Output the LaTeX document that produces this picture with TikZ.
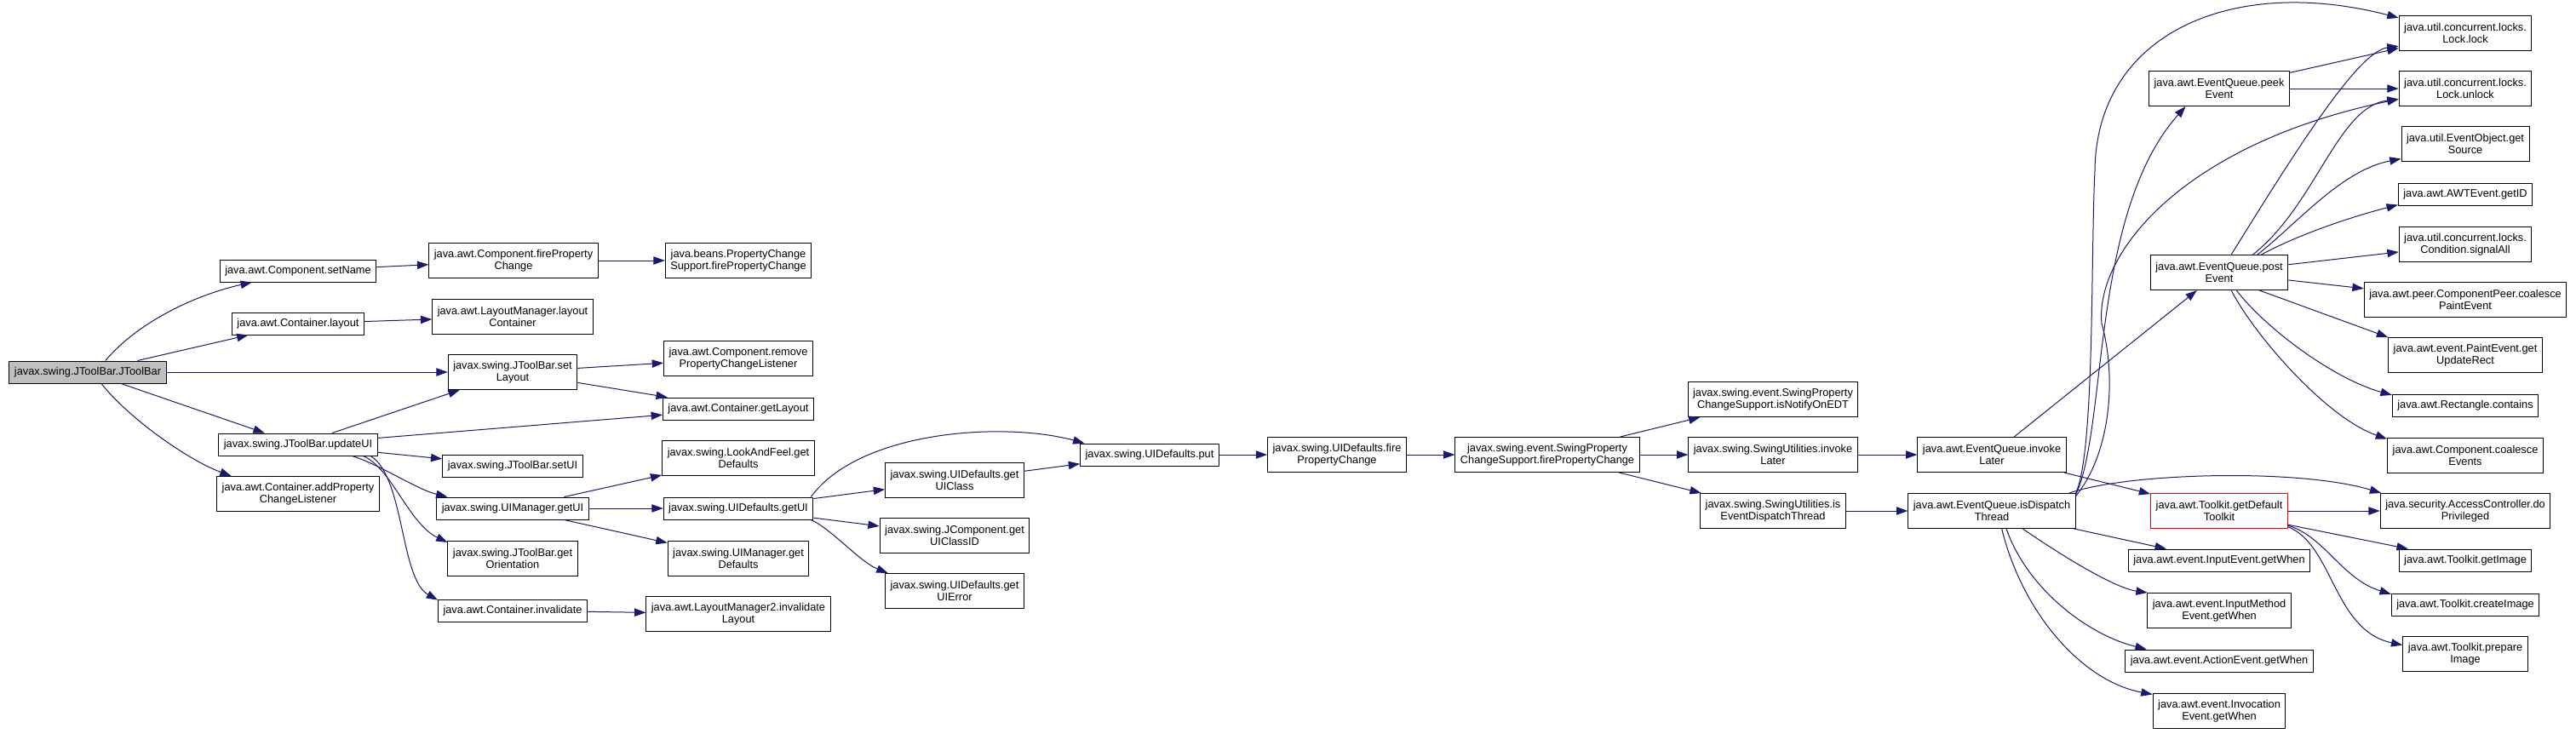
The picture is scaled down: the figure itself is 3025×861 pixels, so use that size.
\documentclass[tikz,border=0pt]{standalone}
\usepackage{fontspec}
\setmainfont{Liberation Sans}
\usepackage{xcolor}
\usetikzlibrary{arrows.meta}
\definecolor{edgeblue}{HTML}{191970}
\definecolor{rootgray}{HTML}{BFBFBF}

\begin{document}
\begin{tikzpicture}[x=0.75pt,y=-0.75pt,
    fn/.style={draw=black,line width=0.75pt,fill=white,align=center,inner xsep=4.5pt,inner ysep=2pt,minimum height=19.5pt,font=\fontsize{9.6}{10.8}\selectfont},
    fn2/.style={fn,minimum height=30.75pt},
    call/.style={edgeblue,line width=0.75pt,-{Triangle[length=10pt,width=7pt]}}]
    \useasboundingbox (0,0) rectangle (3025,861);
    \fill[white] (0,0) rectangle (3025,861);

    \node[fn,fill=rootgray] (jtoolbar) at (103,437) {javax.swing.JToolBar.JToolBar};
    \node[fn] (setname) at (350,318) {java.awt.Component.setName};
    \node[fn2] (firepc) at (603,306) {java.awt.Component.fireProperty\\Change};
    \node[fn2] (pcsfire) at (867,306) {java.beans.PropertyChange\\Support.firePropertyChange};
    \node[fn] (clayout) at (350,380) {java.awt.Container.layout};
    \node[fn2] (lmlayout) at (602,372) {java.awt.LayoutManager.layout\\Container};
    \node[fn2] (setlayout) at (602,437) {javax.swing.JToolBar.set\\Layout};
    \node[fn2] (removepcl) at (867,421) {java.awt.Component.remove\\PropertyChangeListener};
    \node[fn] (getlayout) at (867,480) {java.awt.Container.getLayout};
    \node[fn] (updateui) at (350,522) {javax.swing.JToolBar.updateUI};
    \node[fn] (setui) at (602,547) {javax.swing.JToolBar.setUI};
    \node[fn2] (addpcl) at (350,580) {java.awt.Container.addProperty\\ChangeListener};
    \node[fn2] (lafdefaults) at (867,538) {javax.swing.LookAndFeel.get\\Defaults};
    \node[fn] (uimgetui) at (602,597) {javax.swing.UIManager.getUI};
    \node[fn] (uidgetui) at (867,597) {javax.swing.UIDefaults.getUI};
    \node[fn2] (getorient) at (602,656) {javax.swing.JToolBar.get\\Orientation};
    \node[fn2] (uimdefaults) at (867,656) {javax.swing.UIManager.get\\Defaults};
    \node[fn] (invalidate) at (602,717) {java.awt.Container.invalidate};
    \node[fn2] (invlayout) at (867,721) {java.awt.LayoutManager2.invalidate\\Layout};
    \node[fn2] (getuiclass) at (1121,564) {javax.swing.UIDefaults.get\\UIClass};
    \node[fn2] (getuiclassid) at (1121,629) {javax.swing.JComponent.get\\UIClassID};
    \node[fn2] (getuierror) at (1121,694) {javax.swing.UIDefaults.get\\UIError};
    \node[fn] (uidput) at (1350,534) {javax.swing.UIDefaults.put};
    \node[fn2] (uidfire) at (1570,534) {javax.swing.UIDefaults.fire\\PropertyChange};
    \node[fn2] (spcsfire) at (1817,534) {javax.swing.event.SwingProperty\\ChangeSupport.firePropertyChange};
    \node[fn2] (notifyedt) at (2082,469) {javax.swing.event.SwingProperty\\ChangeSupport.isNotifyOnEDT};
    \node[fn2] (suinvoke) at (2082,534) {javax.swing.SwingUtilities.invoke\\Later};
    \node[fn2] (suisedt) at (2082,600) {javax.swing.SwingUtilities.is\\EventDispatchThread};
    \node[fn2] (eqinvoke) at (2339,534) {java.awt.EventQueue.invoke\\Later};
    \node[fn2] (eqisdt) at (2339,600) {java.awt.EventQueue.isDispatch\\Thread};
    \node[fn2] (peekevent) at (2606,104) {java.awt.EventQueue.peek\\Event};
    \node[fn2] (postevent) at (2606,320) {java.awt.EventQueue.post\\Event};
    \node[fn2,draw=red] (gettoolkit) at (2606,600) {java.awt.Toolkit.getDefault\\Toolkit};
    \node[fn] (inputwhen) at (2606,658) {java.awt.event.InputEvent.getWhen};
    \node[fn2] (imwhen) at (2606,717) {java.awt.event.InputMethod\\Event.getWhen};
    \node[fn] (actionwhen) at (2606,776) {java.awt.event.ActionEvent.getWhen};
    \node[fn2] (invwhen) at (2606,835) {java.awt.event.Invocation\\Event.getWhen};
    \node[fn2] (lock) at (2895,39) {java.util.concurrent.locks.\\Lock.lock};
    \node[fn2] (unlock) at (2895,104) {java.util.concurrent.locks.\\Lock.unlock};
    \node[fn2] (getsource) at (2895,169) {java.util.EventObject.get\\Source};
    \node[fn] (getid) at (2895,228) {java.awt.AWTEvent.getID};
    \node[fn2] (signalall) at (2895,287) {java.util.concurrent.locks.\\Condition.signalAll};
    \node[fn2] (coalpaint) at (2895,352) {java.awt.peer.ComponentPeer.coalesce\\PaintEvent};
    \node[fn2] (updaterect) at (2895,417) {java.awt.event.PaintEvent.get\\UpdateRect};
    \node[fn] (rectcontains) at (2895,476) {java.awt.Rectangle.contains};
    \node[fn2] (coalevents) at (2895,535) {java.awt.Component.coalesce\\Events};
    \node[fn2] (doprivileged) at (2895,600) {java.security.AccessController.do\\Privileged};
    \node[fn] (getimage) at (2895,658) {java.awt.Toolkit.getImage};
    \node[fn] (createimage) at (2895,710) {java.awt.Toolkit.createImage};
    \node[fn2] (prepimage) at (2895,768) {java.awt.Toolkit.prepare\\Image};

    \draw[call] (jtoolbar.33) .. controls (165,375) and (235,345) .. (setname.-166);
    \draw[call] (jtoolbar) -- (clayout);
    \draw[call] (jtoolbar) -- (setlayout);
    \draw[call] (jtoolbar) -- (updateui);
    \draw[call] (jtoolbar.-40) .. controls (150,490) and (220,540) .. (addpcl.165);
    \draw[call] (setname) -- (firepc);
    \draw[call] (firepc) -- (pcsfire);
    \draw[call] (clayout) -- (lmlayout);
    \draw[call] (setlayout) -- (removepcl);
    \draw[call] (setlayout) -- (getlayout);
    \draw[call] (updateui) -- (setlayout);
    \draw[call] (updateui) -- (getlayout);
    \draw[call] (updateui) -- (setui);
    \draw[call] (updateui.-12) .. controls (445,545) and (490,575) .. (uimgetui.170);
    \draw[call] (updateui.-10) .. controls (460,550) and (480,615) .. (getorient.166);
    \draw[call] (updateui.-9) .. controls (475,560) and (470,680) .. (invalidate.172);
    \draw[call] (invalidate) -- (invlayout);
    \draw[call] (uimgetui) -- (lafdefaults);
    \draw[call] (uimgetui) -- (uidgetui);
    \draw[call] (uimgetui) -- (uimdefaults);
    \draw[call] (uidgetui.9) .. controls (1010,505) and (1180,495) .. (uidput.170);
    \draw[call] (uidgetui) -- (getuiclass);
    \draw[call] (uidgetui) -- (getuiclassid);
    \draw[call] (uidgetui.-9) .. controls (975,620) and (1010,660) .. (getuierror.165);
    \draw[call] (getuiclass) -- (uidput);
    \draw[call] (uidput) -- (uidfire);
    \draw[call] (uidfire) -- (spcsfire);
    \draw[call] (spcsfire) -- (notifyedt);
    \draw[call] (spcsfire) -- (suinvoke);
    \draw[call] (spcsfire) -- (suisedt);
    \draw[call] (suinvoke) -- (eqinvoke);
    \draw[call] (suisedt) -- (eqisdt);
    \draw[call] (eqinvoke) -- (postevent);
    \draw[call] (eqinvoke) -- (gettoolkit);

    \draw[call] (eqisdt.12) .. controls (2460,530) and (2455,300) .. (2460,200) .. controls (2462,40) and (2620,-30) .. (lock.167);
    \draw[call] (eqisdt.11) .. controls (2475,500) and (2455,250) .. (peekevent.-152);
    \draw[call] (eqisdt.10) .. controls (2480,530) and (2485,440) .. (2468,380) .. controls (2460,300) and (2560,170) .. (unlock.-171);
    \draw[call] (eqisdt.13) .. controls (2500,555) and (2700,550) .. (doprivileged.168);
    \draw[call] (eqisdt) -- (inputwhen);
    \draw[call] (eqisdt.-30) .. controls (2410,645) and (2480,690) .. (imwhen.166);
    \draw[call] (eqisdt.-51) .. controls (2380,690) and (2450,745) .. (actionwhen.171);
    \draw[call] (eqisdt.-61) .. controls (2375,720) and (2445,800) .. (invwhen.166);

    \draw[call] (peekevent) -- (lock);
    \draw[call] (peekevent) -- (unlock);
    \draw[call] (postevent.56) .. controls (2700,170) and (2770,60) .. (lock.-169);
    \draw[call] (postevent.28) .. controls (2720,240) and (2745,125) .. (unlock.-171);
    \draw[call] (postevent.25) .. controls (2700,260) and (2750,200) .. (getsource.-167);
    \draw[call] (postevent.23) .. controls (2700,275) and (2760,255) .. (getid.-171);
    \draw[call] (postevent) -- (signalall);
    \draw[call] (postevent) -- (coalpaint);
    \draw[call] (postevent.-24) -- (updaterect.167);
    \draw[call] (postevent.-46) .. controls (2660,385) and (2740,445) .. (rectcontains.172);
    \draw[call] (postevent.-56) .. controls (2645,390) and (2730,490) .. (coalevents.168);

    \draw[call] (gettoolkit) -- (doprivileged);
    \draw[call] (gettoolkit) -- (getimage);
    \draw[call] (gettoolkit.-12) .. controls (2730,630) and (2750,680) .. (createimage.172);
    \draw[call] (gettoolkit.-13) .. controls (2740,640) and (2740,740) .. (prepimage.172);
\end{tikzpicture}
\end{document}
